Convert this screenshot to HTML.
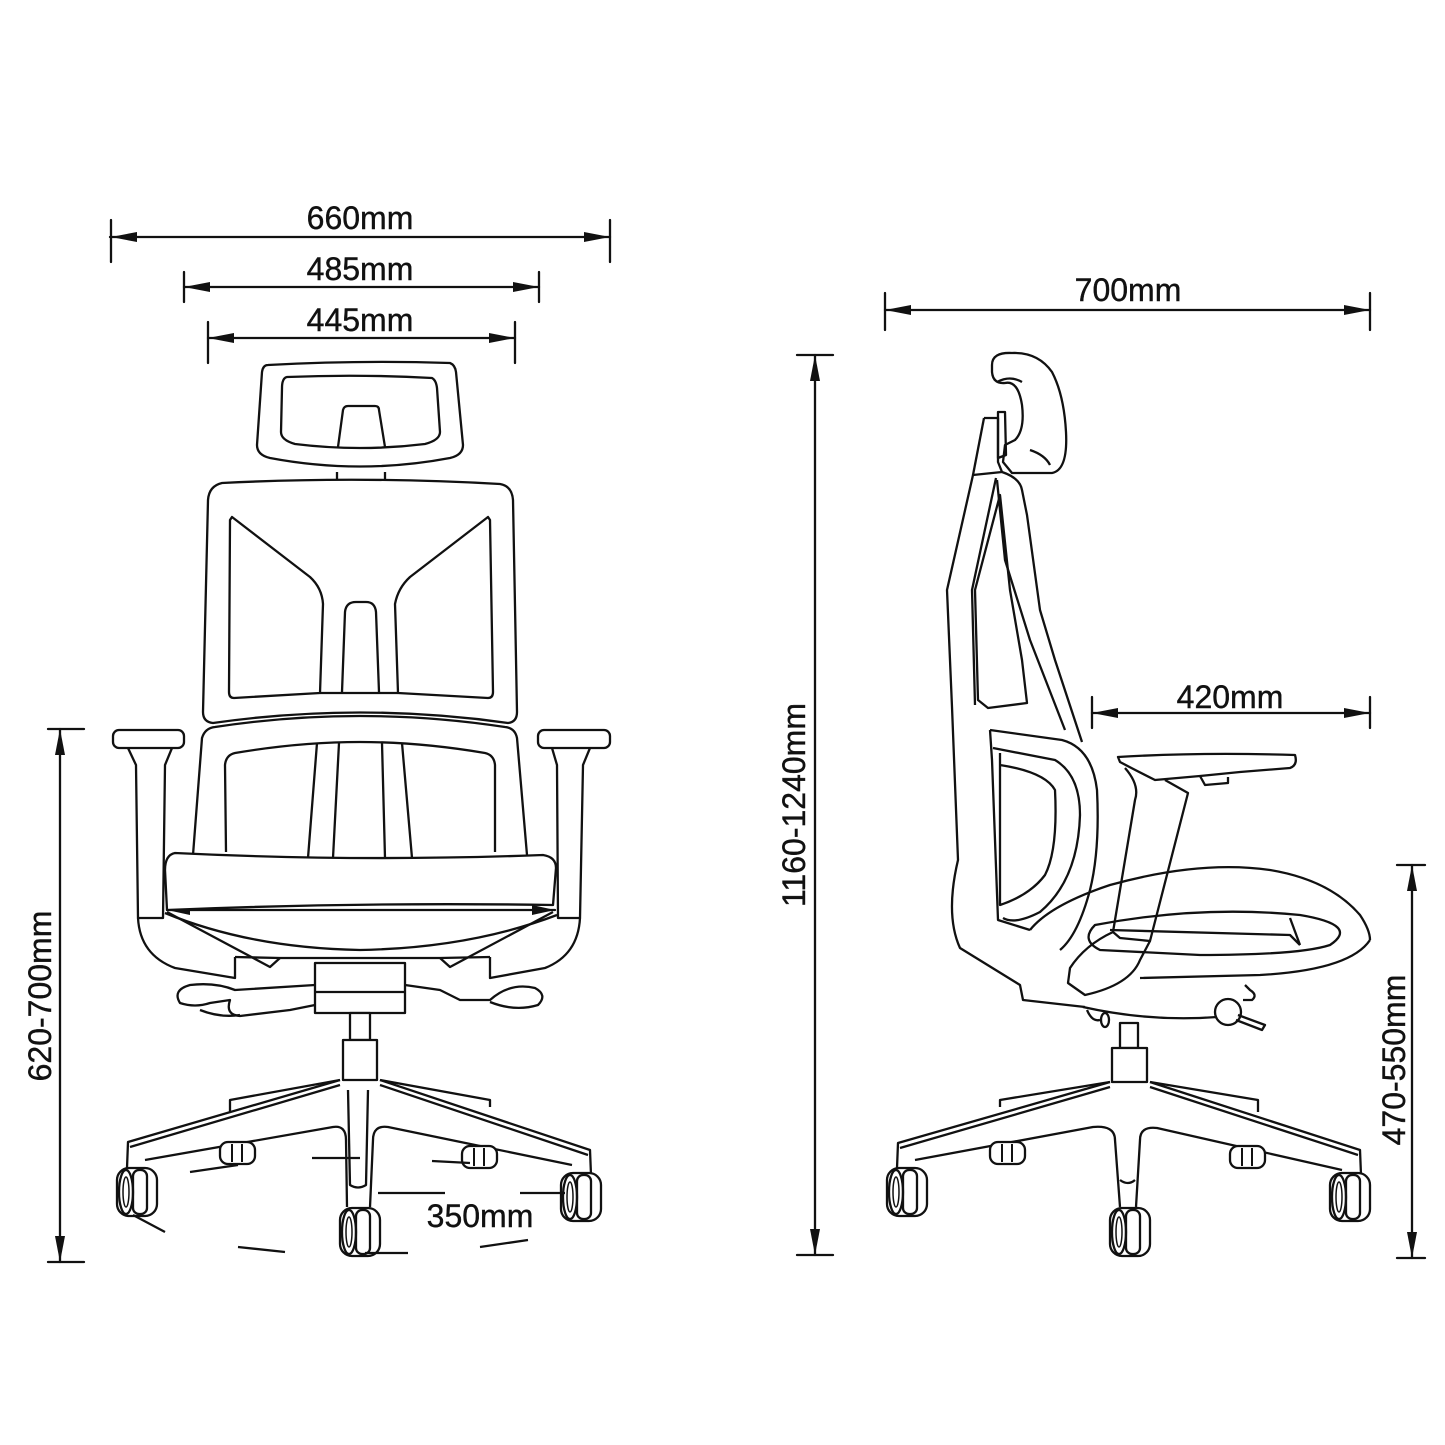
<!DOCTYPE html>
<html><head><meta charset="utf-8"><style>
html,body{margin:0;padding:0;background:#fff}
svg{display:block}
text{font-family:"Liberation Sans",Arial,sans-serif;font-size:32px;fill:#111;stroke:#111;stroke-width:0.4}
</style></head><body>
<svg width="1445" height="1445" viewBox="0 0 1445 1445" xmlns="http://www.w3.org/2000/svg">
<defs>
<g id="wh">
<rect x="0" y="0" width="40" height="48" rx="12" fill="#fff" stroke="#111" stroke-width="2.3"/>
<ellipse cx="9" cy="24" rx="7" ry="22" fill="#fff" stroke="#111" stroke-width="2.3"/>
<ellipse cx="9" cy="24" rx="3" ry="15" fill="none" stroke="#111" stroke-width="1.5"/>
<rect x="16" y="2" width="14" height="44" rx="6" fill="none" stroke="#111" stroke-width="2.3"/>
</g>
<g id="sw">
<rect x="0" y="0" width="35" height="22" rx="8" fill="#fff" stroke="#111" stroke-width="2.3"/>
<line x1="12" y1="2" x2="12" y2="20" stroke="#111" stroke-width="2"/>
<line x1="22" y1="2" x2="22" y2="20" stroke="#111" stroke-width="2"/>
</g>
</defs>
<g stroke="#111" stroke-width="2.3" fill="none" stroke-linejoin="round" stroke-linecap="round">
<line x1="110" y1="237" x2="610" y2="237"/><line x1="111" y1="220" x2="111" y2="262"/><line x1="610" y1="220" x2="610" y2="262"/>
<line x1="184" y1="287" x2="539" y2="287"/><line x1="184" y1="272" x2="184" y2="302"/><line x1="539" y1="272" x2="539" y2="302"/>
<line x1="208" y1="338" x2="515" y2="338"/><line x1="208" y1="322" x2="208" y2="363"/><line x1="515" y1="322" x2="515" y2="363"/>
<line x1="885" y1="310" x2="1370" y2="310"/><line x1="885" y1="293" x2="885" y2="330"/><line x1="1370" y1="293" x2="1370" y2="330"/>
<line x1="1092" y1="713" x2="1370" y2="713"/><line x1="1092" y1="697" x2="1092" y2="728"/><line x1="1370" y1="697" x2="1370" y2="728"/>
<line x1="60" y1="729" x2="60" y2="1262"/><line x1="48" y1="729" x2="84" y2="729"/><line x1="48" y1="1262" x2="84" y2="1262"/>
<line x1="815" y1="355" x2="815" y2="1255"/><line x1="797" y1="355" x2="833" y2="355"/><line x1="797" y1="1255" x2="833" y2="1255"/>
<line x1="1412" y1="865" x2="1412" y2="1258"/><line x1="1397" y1="865" x2="1425" y2="865"/><line x1="1397" y1="1258" x2="1425" y2="1258"/>
<line x1="167" y1="910" x2="555" y2="910"/>
</g>
<g fill="#111">
<polygon points="111,237 137,232 137,242"/><polygon points="610,237 584,232 584,242"/>
<polygon points="184,287 210,282 210,292"/><polygon points="539,287 513,282 513,292"/>
<polygon points="208,338 234,333 234,343"/><polygon points="515,338 489,333 489,343"/>
<polygon points="885,310 911,305 911,315"/><polygon points="1370,310 1344,305 1344,315"/>
<polygon points="1092,713 1118,708 1118,718"/><polygon points="1370,713 1344,708 1344,718"/>
<polygon points="60,729 55,755 65,755"/><polygon points="60,1262 55,1236 65,1236"/>
<polygon points="815,355 810,381 820,381"/><polygon points="815,1255 810,1229 820,1229"/>
<polygon points="1412,865 1407,891 1417,891"/><polygon points="1412,1258 1407,1232 1417,1232"/>
<polygon points="167,910 190,905 190,915"/><polygon points="555,910 532,905 532,915"/>
</g>
<text x="360" y="229" text-anchor="middle">660mm</text>
<text x="360" y="280" text-anchor="middle">485mm</text>
<text x="360" y="331" text-anchor="middle">445mm</text>
<text x="360" y="903" text-anchor="middle">485mm</text>
<text x="480" y="1227" text-anchor="middle">350mm</text>
<text x="1128" y="301" text-anchor="middle">700mm</text>
<text x="1230" y="708" text-anchor="middle">420mm</text>
<text transform="translate(51,996) rotate(-90)" text-anchor="middle">620-700mm</text>
<text transform="translate(805,805) rotate(-90)" text-anchor="middle">1160-1240mm</text>
<text transform="translate(1405,1060) rotate(-90)" text-anchor="middle">470-550mm</text>

<!-- FRONT VIEW -->
<g stroke="#111" stroke-width="2.3" fill="none" stroke-linejoin="round">
<path d="M268,365 Q360,360 450,363 Q455,365 456,372 L463,445 Q463,455 450,458 Q360,475 270,458 Q257,455 257,445 L262,372 Q263,365 268,365 Z"/>
<path d="M287,377 Q360,374 432,378 Q436,380 437,388 L440,432 Q440,440 425,444 Q360,452 295,444 Q281,440 281,432 L282,388 Q282,378 287,377 Z"/>
<path d="M338,447 L343,410 Q344,406 348,406 L375,406 Q379,406 379,410 L385,447"/>
<path d="M337,472 L337,479 M385,472 L385,479"/>
<path d="M222,483 Q360,476 500,484 Q512,486 513,500 L517,712 Q517,722 508,723 Q360,702 213,723 Q203,722 203,712 L208,500 Q209,486 222,483 Z"/>
<path d="M232,517 L310,577 Q322,588 323,604 L320,693 L234,698 Q229,698 229,692 L230,520 Z"/>
<path d="M488,517 L410,577 Q398,588 395,604 L398,693 L488,698 Q493,698 493,692 L490,520 Z"/>
<path d="M342,692 L345,612 Q346,602 356,602 L366,602 Q375,602 376,612 L379,692"/>
<line x1="320" y1="693" x2="398" y2="693"/>
<path d="M193,855 L202,738 Q205,728 215,727 Q360,705 505,727 Q515,728 517,738 L527,855"/>
<path d="M226,852 L225,765 Q226,755 235,753 Q300,742 360,742 Q420,742 485,753 Q494,755 495,765 L495,852"/>
<path d="M317,743 L308,858 M339,743 L333,858 M382,743 L385,858 M402,743 L412,858"/>
<rect x="113" y="730" width="71" height="18" rx="6" fill="#fff"/>
<rect x="538" y="730" width="72" height="18" rx="6" fill="#fff"/>
<path d="M128,748 L136,765 L138,918 L163,918 L165,765 L172,748"/>
<path d="M552,748 L557,765 L558,918 L580,918 L583,765 L590,748"/>
<path d="M175,853 Q360,862 543,855 Q556,857 556,868 L553,905 Q360,902 167,910 L165,870 Q165,855 175,853 Z" fill="#fff"/>
<path d="M165,913 Q250,948 360,950 Q470,948 557,915"/>
<path d="M138,918 Q140,955 175,968 L235,978 L235,957"/>
<path d="M580,918 Q578,955 545,968 L490,978 L490,957"/>
<path d="M167,912 L270,967 L280,958 M553,912 L450,967 L440,958"/>
<path d="M235,957 L280,958 L440,958 L490,957"/>
<rect x="315" y="963" width="90" height="50" fill="#fff"/>
<line x1="315" y1="992" x2="405" y2="992"/>
<path d="M315,985 L235,990 Q215,982 190,985 Q172,990 180,1003 Q195,1008 210,1003 L230,1000 Q225,1015 240,1016 L290,1010 L315,1005"/>
<path d="M405,985 L440,990 L460,1000 L490,1000 Q510,982 535,988 Q548,995 538,1005 Q515,1012 490,1002"/>
<path d="M200,1010 Q220,1018 240,1015"/>
<rect x="350" y="1013" width="20" height="27" fill="#fff"/>
<rect x="343" y="1040" width="34" height="40" fill="#fff"/>
<path d="M230,1112 L230,1100 L340,1080 M490,1107 L490,1100 L380,1080"/>
<path d="M340,1080 L128,1142 L127,1168 M145,1160 L333,1127 Q346,1125 346,1140 L347,1207"/>
<path d="M380,1080 L590,1150 L591,1175 M572,1165 L388,1127 Q373,1125 373,1140 L370,1207"/>
<path d="M130,1147 L340,1085 M588,1155 L380,1085"/>
<path d="M348,1090 L350,1185 Q358,1190 366,1185 L368,1090"/>
<use href="#wh" x="117" y="1168"/>
<use href="#wh" x="340" y="1208"/>
<use href="#wh" x="561" y="1173"/>
<use href="#sw" x="220" y="1142"/>
<use href="#sw" x="462" y="1146"/>
<path d="M190,1172 L238,1165 M312,1158 L360,1158 M432,1161 L470,1163 M378,1193 L445,1193 M520,1193 L565,1193 M133,1215 L165,1232 M238,1247 L285,1252 M365,1253 L408,1253 M480,1247 L528,1240"/>
</g>

<!-- SIDE VIEW -->
<g stroke="#111" stroke-width="2.3" fill="none" stroke-linejoin="round">
<path d="M992,365 Q992,352 1012,353 Q1038,352 1052,372 Q1064,395 1066,432 Q1068,470 1052,473 L1012,473 L1003,462 L1005,445 L1015,440 Q1025,430 1022,405 Q1018,380 1005,383 Q993,384 992,372 Z"/>
<path d="M997,382 Q1010,375 1022,382"/>
<path d="M1030,450 Q1045,455 1050,465"/>
<path d="M998,412 L1005,412 L1006,455 L998,458 Z"/>
<path d="M984,418 L998,418 L998,462 L1002,472 L973,475 L947,590 L952,707 L958,860 Q945,915 960,948 L1020,985 L1023,1000 L1085,1007"/>
<path d="M1002,472 Q1020,478 1022,490 L1027,515 L1040,610 L1055,660 L1082,742"/>
<path d="M973,475 L984,418"/>
<path d="M996,478 L972,590 L975,705"/>
<path d="M1000,495 L975,590 L978,700 L988,708 L1027,703 L1022,660 L1010,590 Z"/>
<path d="M997,480 L1005,560 L1030,640 L1065,730"/>
<path d="M990,730 L1062,740 Q1092,748 1097,790 Q1100,850 1090,890 Q1078,935 1060,950"/>
<path d="M993,748 L1055,760 Q1080,775 1080,815 Q1078,880 1040,912 Q1015,925 1003,918"/>
<path d="M1000,753 L1000,905 Q1030,895 1045,875 Q1058,850 1055,790 Q1045,772 1000,765"/>
<path d="M990,730 L992,760 L998,920 L1030,930"/>
<path d="M1030,930 Q1050,905 1110,885 Q1200,860 1270,870 Q1330,880 1360,915 Q1370,930 1370,940"/>
<path d="M1095,925 Q1200,905 1300,915 Q1360,925 1330,945 Q1300,955 1200,955 L1100,950 Q1080,940 1095,925 Z"/>
<path d="M1110,930 L1290,935 L1300,945"/>
<path d="M1290,918 L1300,945"/>
<path d="M1370,940 Q1350,970 1260,975 L1140,978"/>
<path d="M1083,1007 Q1150,1022 1217,1017"/>
<path d="M1118,757 Q1200,752 1295,755 Q1298,765 1290,768 L1240,772 L1200,776 L1155,780 Q1135,770 1120,762 Z"/>
<path d="M1200,776 L1205,785 L1228,783 L1228,777"/>
<path d="M1125,768 Q1140,785 1135,800 L1113,932 L1120,938 L1150,941 L1188,793 L1165,780"/>
<path d="M1113,932 Q1085,945 1070,968 L1068,983 L1085,995 Q1130,985 1140,960 L1150,941"/>
<circle cx="1228" cy="1012" r="13" fill="#fff"/>
<path d="M1238,1015 L1265,1025 L1262,1030 L1236,1020"/>
<path d="M1245,985 L1250,990 Q1258,995 1252,1000 L1243,1000"/>
<path d="M1087,1010 Q1092,1022 1100,1020"/>
<ellipse cx="1105" cy="1020" rx="4" ry="7"/>
<rect x="1120" y="1023" width="18" height="25" fill="#fff"/>
<rect x="1112" y="1048" width="35" height="34" fill="#fff"/>
<path d="M1000,1107 L1000,1100 L1110,1082 M1258,1112 L1258,1100 L1150,1082"/>
<path d="M1110,1082 L898,1143 L897,1168 M915,1160 L1093,1127 Q1115,1125 1115,1140 L1120,1207"/>
<path d="M1150,1082 L1360,1150 L1361,1175 M1342,1170 L1157,1128 Q1140,1126 1140,1140 L1136,1207"/>
<path d="M900,1148 L1110,1087 M1358,1155 L1150,1087"/>
<path d="M1120,1180 Q1128,1186 1135,1180"/>
<use href="#wh" x="887" y="1168"/>
<use href="#wh" x="1110" y="1208"/>
<use href="#wh" x="1330" y="1173"/>
<use href="#sw" x="990" y="1142"/>
<use href="#sw" x="1230" y="1146"/>
</g>
</svg>
</body></html>
